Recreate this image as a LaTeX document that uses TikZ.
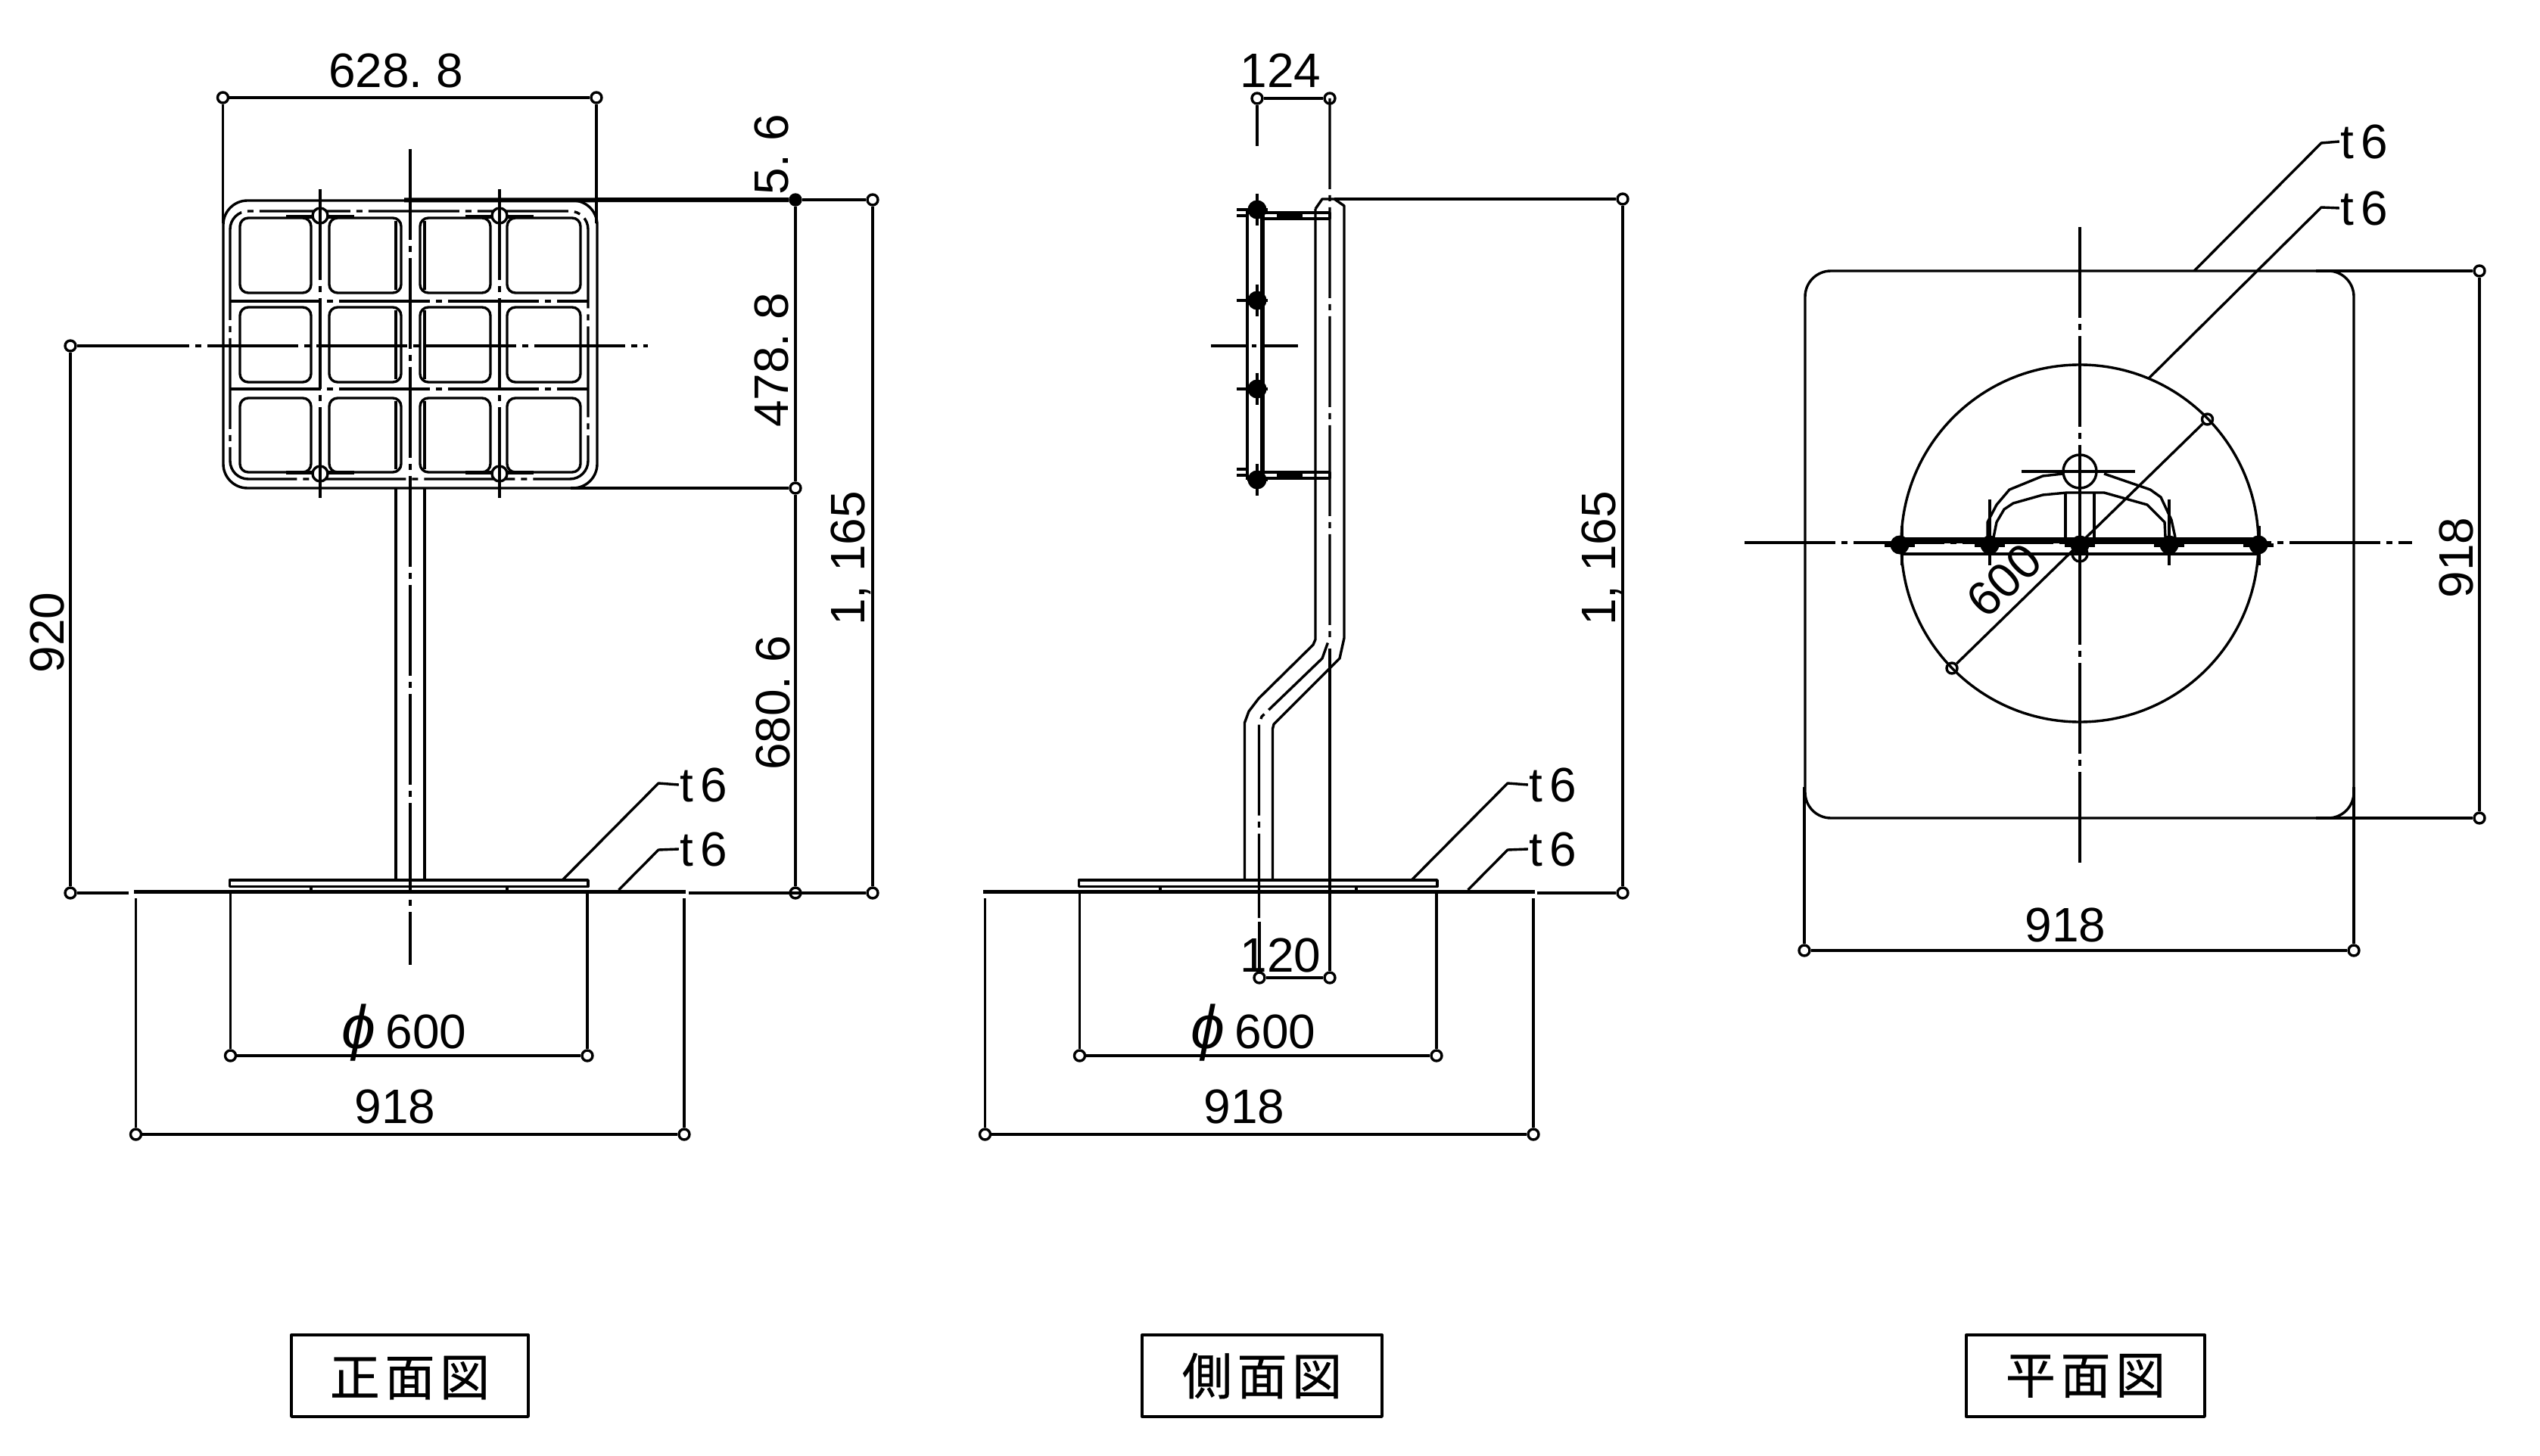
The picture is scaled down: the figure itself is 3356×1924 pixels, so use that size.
\documentclass[tikz,border=0pt]{standalone}
\usepackage{fontspec}
\setmainfont{Liberation Sans}
\newfontfamily\jpfont[LetterSpace=10,FakeBold=0.5]{Noto Sans CJK JP}
\newcommand{\dt}{.\kern0.278em}
\newcommand{\cm}{,\kern0.278em}

\tikzstyle{dimtick}=[draw, circle, inner sep = 0pt, minimum size = 1.4mm]
\tikzstyle{txt}=[inner sep = 0pt, font = \fontsize{18.2}{20}\selectfont]
\tikzstyle{cline}=[dash pattern = on 12mm off 0.8mm on 0.8mm off 0.8mm]
\tikzstyle{nut}=[fill, circle, inner sep = 0pt, minimum size = 2.5mm]
\tikzstyle{viewbox}=[draw, minimum width = 31.3mm, minimum height = 10.8mm,
  font = \jpfont\fontsize{18.8}{20}\selectfont]

\begin{document}
\begin{tikzpicture}[x = 0.1mm, y = -0.1mm, line width = 0.34mm, line join = round]
\useasboundingbox (0,0) rectangle (3356,1924);
% Front view panel
\draw[rounded corners = 3.2mm] (295,265) rectangle (789,645);
\draw[cline, rounded corners = 2.4mm] (304,279) rectangle (777,633);
\draw[cline] (304,398) -- (777,398);
\draw[cline] (304,514) -- (777,514);
\foreach \ya/\yb in {288/387,406/505,526/624}{
  \foreach \xa/\xb in {317/411,435/530,555/648,670/767}
    \draw[rounded corners = 1.1mm] (\xa,\ya) rectangle (\xb,\yb);
  \draw (523,\ya+4) -- (523,\yb-4); \draw (561,\ya+4) -- (561,\yb-4);
}
\foreach \x in {423,660}{
  \draw[cline] (\x,250) -- (\x,662);
  \draw[line width = 0.5mm] (\x-45,287) -- (\x+45,287);
  \draw[line width = 0.5mm] (\x-45,625) -- (\x+45,625);
  \draw (\x,285) node[dimtick, minimum size = 2mm, fill = white](holet\x){};
  \draw (\x,626) node[dimtick, minimum size = 2mm, fill = white](holeb\x){};
  \draw (holet\x.north) -- (holet\x.south); \draw (holeb\x.north) -- (holeb\x.south);
}
\draw (523,645) -- (523,1163); \draw (561,645) -- (561,1163);
\draw[cline] (542,197) -- (542,1275);
\draw[cline] (130,457) -- (856,457);
% Front view dimensions
\draw (294.5,129) node[dimtick](fa){}; \draw (788,129) node[dimtick](fb){};
\draw (fa) -- (fb); \draw (fa) -- (294.5,295); \draw (fb) -- (788,295);
\draw (523,93) node[txt](fwidth){628\dt 8};
\draw (1051,264) node[dimtick, fill](fc){};
\draw (1051,645) node[dimtick](fd){};
\draw (1051,1180) node[dimtick](fe){};
\draw (fc) -- (fd) -- (fe); \draw (fd) -- (754,645);
\draw (1153,264) node[dimtick](ff){};
\draw (1153,1180) node[dimtick](fg){};
\draw (ff) -- (fg); \draw (fc) -- (ff); \draw (910,1180) -- (fg);
\draw[line width = 0.6mm] (534,264.5) -- (fc);
\draw (93,457) node[dimtick](fh){};
\draw (93,1180) node[dimtick](fi){};
\draw (fh) -- (fi); \draw (fh) -- (130,457); \draw (fi) -- (170,1180);
\draw (1019,204) node[txt, rotate = 90](ftop){5\dt 6};
\draw (1019,476) node[txt, rotate = 90](fpanel){478\dt 8};
\draw (1021,929) node[txt, rotate = 90](fpost){680\dt 6};
\draw (1124,738) node[txt, rotate = 90](fall){1\cm 165};
\draw (62,836) node[txt, rotate = 90](fcen){920};
% Base and its dimensions, same in front and side view
\foreach \x in {0,1122}{
  \draw (\x+303.5,1163) rectangle (\x+777,1171.5);
  \draw (\x+411,1171) -- (\x+411,1176); \draw (\x+670,1171) -- (\x+670,1176);
  \draw[line width = 0.55mm] (\x+177,1178.5) -- (\x+906,1178.5);
  \draw (\x+304.5,1395) node[dimtick](ba){};
  \draw (\x+776,1395) node[dimtick](bb){};
  \draw (ba) -- (bb); \draw (ba) -- (\x+304.5,1180); \draw (bb) -- (\x+776,1180);
  \draw (\x+179.5,1499) node[dimtick](bc){};
  \draw (\x+904,1499) node[dimtick](bd){};
  \draw (bc) -- (bd); \draw (bc) -- (\x+179.5,1187); \draw (bd) -- (\x+904,1187);
  \draw (\x+450,1385) node[txt, anchor = base west](bphi)
    {{\fontsize{23}{24}\selectfont\itshape ϕ}\kern0.2em 600};
  \draw (\x+522,1462) node[txt](bsize){918};
  \draw (\x+930,1037) node[txt](bta){t\kern0.15em 6};
  \draw (\x+930,1122) node[txt](btb){t\kern0.15em 6};
  \draw (\x+743,1163) -- (\x+870,1035) -- (bta.west);
  \draw (\x+817.5,1176) -- (\x+870,1123) -- (btb.west);
}
% Side view tube
\draw (1738,276) -- (1747,263) -- (1763,263) -- (1776,272) -- (1776,843)
  -- (1770,870) -- (1683,957) -- (1681.5,963) -- (1681.5,1163);
\draw (1738,276) -- (1738,845) -- (1735,852) -- (1663,923) -- (1650,940)
  -- (1644.5,955) -- (1644.5,1163);
\draw[cline] (1757,130) -- (1757,842) -- (1747,870) -- (1667,947) -- (1663.5,957)
  -- (1663.5,1213);
% Side view bracket
\draw (1648,276) -- (1648,634);
\draw[line width = 0.55mm] (1668,276) -- (1668,634);
\foreach \y in {281,624}{
  \draw (1668,\y) rectangle (1757,\y+8);
  \fill (1687,\y) rectangle (1721,\y+8);
  \draw (1634,\y-4) -- (1650,\y-4); \draw (1634,\y+4) -- (1650,\y+4);
}
\foreach \y/\n in {277/a,397/b,514/c,634/d}{
  \draw (1661,\y) node[nut](nut\n){};
  \draw (1661,\y-21) -- (1661,\y+21); \draw (1648,\y) -- (1675,\y);
}
\draw (1634,397) -- (1650,397); \draw (1634,514) -- (1650,514);
\draw (1600,457) -- (1648,457); \draw (1668,457) -- (1715,457);
\draw (1654,457) -- (1660,457);
% Side view dimensions
\draw (1661,130) node[dimtick](sa){}; \draw (1757,130) node[dimtick](sb){};
\draw (sa) -- (sb); \draw (sa) -- (1661,193);
\draw (1692,93) node[txt](swidth){124};
\draw (1664,1292) node[dimtick](sc){}; \draw (1757,1292) node[dimtick](sd){};
\draw (sc) -- (sd); \draw (sc) -- (1664,1218); \draw (sd) -- (1757,857);
\draw (1692,1262) node[txt](soff){120};
\draw (2144,263) node[dimtick](se){}; \draw (2144,1180) node[dimtick](sf){};
\draw (se) -- (sf); \draw (se) -- (1763,263); \draw (2031,1180) -- (sf);
\draw (2116,738) node[txt, rotate = 90](sall){1\cm 165};
% Plan view
\draw[rounded corners = 3.4mm] (2385,358) rectangle (3110,1081);
\draw (2748,718) circle (236);
\draw[cline] (2748,300) -- (2748,1145);
\draw[cline] (2305,717) -- (3187,717);
\draw (2748,623) circle (22);
\draw[cline, dash pattern = on 30mm off 0.8mm on 1.6mm off 0.8mm] (2671,623) -- (2821,623);
\draw (2726,626) -- (2699,629) -- (2655,647) -- (2638,667) -- (2626,690) -- (2626,710);
\draw (2780,626) -- (2841,647) -- (2855,657) -- (2869,687) -- (2874,710);
\draw (2634,710) -- (2638,690) -- (2648,673) -- (2660,665) -- (2699,654) -- (2731,651)
  -- (2780,651) -- (2837,667) -- (2860,690) -- (2861,710);
\draw (2729,651) -- (2729,710); \draw (2767,651) -- (2767,710);
\draw[line width = 0.8mm] (2509,714) -- (2984,714);
\draw (2513,732) -- (2986,732);
\draw (2748,732) circle (10);
\foreach \x/\n in {2510/a,2629/b,2748/c,2866/d,2984/e}{
  \draw (\x,720) node[nut](pnut\n){};
  \draw[line width = 0.5mm] (\x-20,720) -- (\x+20,720);
}
\draw (2629,660) -- (2629,747); \draw (2866,660) -- (2866,747);
\draw (2513,695) -- (2513,747); \draw (2985,695) -- (2985,747);
% Plan view dimensions
\draw (3276,358) node[dimtick](pa){}; \draw (3276,1081) node[dimtick](pb){};
\draw (pa) -- (pb); \draw (pa) -- (3060,358); \draw (pb) -- (3060,1081);
\draw (3245,737) node[txt, rotate = 90](pdepth){918};
\draw (2384,1256) node[dimtick](pc){}; \draw (3110,1256) node[dimtick](pd){};
\draw (pc) -- (pd); \draw (pc) -- (2384,1040); \draw (pd) -- (3110,1040);
\draw (2729,1222) node[txt](pwidth){918};
\draw (2916.5,554) node[dimtick](pe){}; \draw (2579,883) node[dimtick](pf){};
\draw (pe) -- (pf);
\draw (2648,767) node[txt, rotate = 44](pdia){600};
\draw (3124,187) node[txt](pta){t\kern0.15em 6};
\draw (3124,275) node[txt](ptb){t\kern0.15em 6};
\draw (2899,358) -- (3067,189) -- (pta.west);
\draw (2839,500) -- (3067,274) -- (ptb.west);
% View names
\draw (541.5,1818) node[viewbox, text depth = 0pt](front){正面図};
\draw (1667.5,1818) node[viewbox, minimum width = 31.7mm](side){側面図};
\draw (2755.5,1818) node[viewbox, minimum width = 31.5mm](plan){平面図};
\end{tikzpicture}
\end{document}
